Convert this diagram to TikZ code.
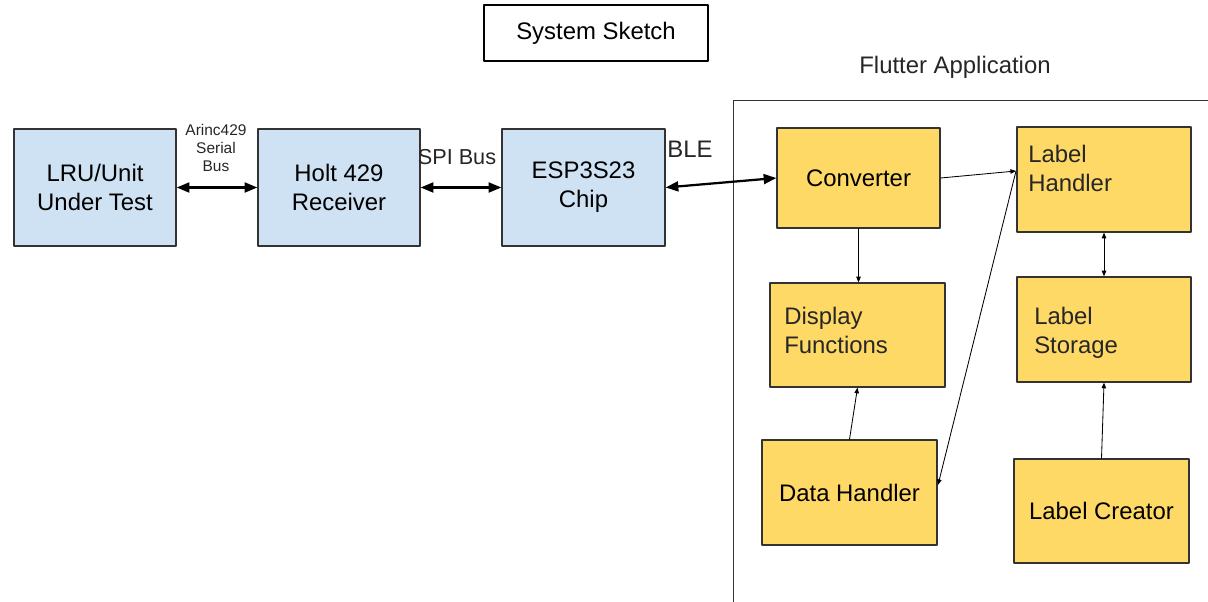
\documentclass[tikz,border=0pt]{standalone}
\usepackage{fontspec}
\setmainfont{Liberation Sans}
\usetikzlibrary{arrows.meta}
\definecolor{hwblue}{HTML}{CFE2F3}
\definecolor{appyellow}{HTML}{FFD966}
\definecolor{edge}{HTML}{333333}
\begin{document}
\begin{tikzpicture}[x=0.025cm, y=-0.025cm, line cap=round, line join=round,
    font=\fontsize{17}{20.5}\selectfont,
    hw/.style={draw=edge, line width=0.9pt, fill=hwblue, align=center, inner sep=0pt},
    app/.style={draw=edge, line width=0.9pt, fill=appyellow, align=center, inner sep=0pt},
    txt/.style={inner sep=0pt, align=left, text=black!85},
    bus/.style={line width=1.6pt, {Triangle[length=9pt,width=7pt]}-{Triangle[length=9pt,width=7pt]}},
    flow/.style={line width=0.6pt, -{Triangle[length=4pt,width=3.2pt]}},
    both/.style={line width=0.6pt, {Triangle[length=4pt,width=3.2pt]}-{Triangle[length=4pt,width=3.2pt]}}]
  % page is 1208 x 602 units, y runs downward
  \useasboundingbox (0,0) rectangle (1208,602);

  % title
  \node[draw=black, line width=1.4pt, minimum width=5.6cm, minimum height=1.4cm]
    (title) at (596,33) {System Sketch};

  % hardware chain
  \node[hw, minimum width=4.05cm, minimum height=2.925cm] (lru) at (95,187.5) {LRU/Unit\\Under Test};
  \node[hw, minimum width=4.05cm, minimum height=2.925cm] (holt) at (339,187.5) {Holt 429\\Receiver};
  \node[hw, minimum width=4.075cm, minimum height=2.925cm] (esp) at (583.5,187.5) {ESP3S23\\Chip};

  \draw[bus] (lru.east) -- (holt.west);
  \draw[bus] (holt.west -| holt.east) -- (esp.west);
  \node[txt, align=center, font=\fontsize{11}{12.8}\selectfont] (arinc) at (216,148) {Arinc429\\Serial\\Bus};
  \node[txt] (spi) at (457,157) {\fontsize{15.4}{18}\selectfont SPI Bus};
  \node[txt] (ble) at (690,149) {BLE};

  % app frame
  \draw[line width=0.7pt, edge] (733,602) -- (733,100) -- (1208,100);
  \node[txt] (flutter) at (955,67) {Flutter Application};

  % app blocks
  \node[app, minimum width=4.075cm, minimum height=2.5cm] (conv) at (858.5,178) {Converter};
  \node[app, minimum width=4.35cm, minimum height=2.625cm] (lh) at (1104,179.5) {};
  \node[app, minimum width=4.375cm, minimum height=2.6cm] (disp) at (857.5,335) {};
  \node[app, minimum width=4.35cm, minimum height=2.625cm] (ls) at (1104,329.5) {};
  \node[app, minimum width=4.375cm, minimum height=2.625cm] (dh) at (849.5,492.5) {Data Handler};
  \node[app, minimum width=4.375cm, minimum height=2.6cm] (lc) at (1101.5,511) {Label Creator};

  % top-left texts
  \node[txt, anchor=north west] (lhtext) at (1028,145) {Label\\Handler};
  \node[txt, anchor=north west] (disptext) at (784,307) {Display\\Functions};
  \node[txt, anchor=north west] (lstext) at (1034,307) {Label\\Storage};

  % links
  \draw[bus] (esp.east) -- (conv.west);
  \coordinate (lhin) at (1016,171);
  \coordinate (dhin) at (938,485);
  \draw[flow] (conv.east) -- (lhin);
  \draw[flow] (lhin) -- (dhin);
  \draw[flow] (conv.south) -- (conv.south |- disp.north);
  \draw[flow] (dh.north) -- (disp.south);
  \draw[both] (lh.south) -- (lh.south |- ls.north);
  \draw[flow] (lc.north) -- (ls.south);
\end{tikzpicture}
\end{document}
